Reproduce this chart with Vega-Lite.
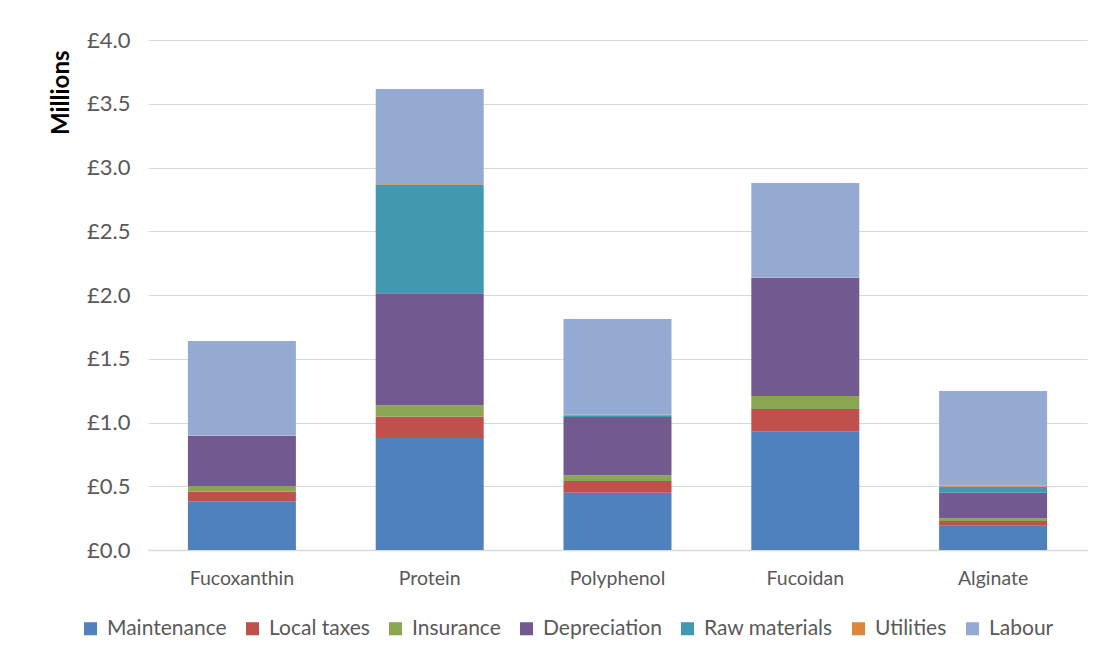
{
  "$schema": "https://vega.github.io/schema/vega-lite/v6.json",
  "width": 939,
  "height": 510,
  "autosize": {"type": "none"},
  "padding": {"left": 148, "top": 40, "right": 19, "bottom": 112},
  "background": "white",
  "data": {
    "values": [
      {"product": "Fucoxanthin", "cost": "Maintenance", "rank": 1, "value": 0.382},
      {"product": "Fucoxanthin", "cost": "Local taxes", "rank": 2, "value": 0.075},
      {"product": "Fucoxanthin", "cost": "Insurance", "rank": 3, "value": 0.045},
      {"product": "Fucoxanthin", "cost": "Depreciation", "rank": 4, "value": 0.392},
      {"product": "Fucoxanthin", "cost": "Raw materials", "rank": 5, "value": 0.002},
      {"product": "Fucoxanthin", "cost": "Utilities", "rank": 6, "value": 0.003},
      {"product": "Fucoxanthin", "cost": "Labour", "rank": 7, "value": 0.74},
      {"product": "Protein", "cost": "Maintenance", "rank": 1, "value": 0.878},
      {"product": "Protein", "cost": "Local taxes", "rank": 2, "value": 0.168},
      {"product": "Protein", "cost": "Insurance", "rank": 3, "value": 0.09},
      {"product": "Protein", "cost": "Depreciation", "rank": 4, "value": 0.877},
      {"product": "Protein", "cost": "Raw materials", "rank": 5, "value": 0.853},
      {"product": "Protein", "cost": "Utilities", "rank": 6, "value": 0.005},
      {"product": "Protein", "cost": "Labour", "rank": 7, "value": 0.745},
      {"product": "Polyphenol", "cost": "Maintenance", "rank": 1, "value": 0.45},
      {"product": "Polyphenol", "cost": "Local taxes", "rank": 2, "value": 0.091},
      {"product": "Polyphenol", "cost": "Insurance", "rank": 3, "value": 0.045},
      {"product": "Polyphenol", "cost": "Depreciation", "rank": 4, "value": 0.457},
      {"product": "Polyphenol", "cost": "Raw materials", "rank": 5, "value": 0.014},
      {"product": "Polyphenol", "cost": "Utilities", "rank": 6, "value": 0.003},
      {"product": "Polyphenol", "cost": "Labour", "rank": 7, "value": 0.752},
      {"product": "Fucoidan", "cost": "Maintenance", "rank": 1, "value": 0.928},
      {"product": "Fucoidan", "cost": "Local taxes", "rank": 2, "value": 0.178},
      {"product": "Fucoidan", "cost": "Insurance", "rank": 3, "value": 0.102},
      {"product": "Fucoidan", "cost": "Depreciation", "rank": 4, "value": 0.925},
      {"product": "Fucoidan", "cost": "Raw materials", "rank": 5, "value": 0.002},
      {"product": "Fucoidan", "cost": "Utilities", "rank": 6, "value": 0.003},
      {"product": "Fucoidan", "cost": "Labour", "rank": 7, "value": 0.74},
      {"product": "Alginate", "cost": "Maintenance", "rank": 1, "value": 0.191},
      {"product": "Alginate", "cost": "Local taxes", "rank": 2, "value": 0.036},
      {"product": "Alginate", "cost": "Insurance", "rank": 3, "value": 0.022},
      {"product": "Alginate", "cost": "Depreciation", "rank": 4, "value": 0.201},
      {"product": "Alginate", "cost": "Raw materials", "rank": 5, "value": 0.047},
      {"product": "Alginate", "cost": "Utilities", "rank": 6, "value": 0.007},
      {"product": "Alginate", "cost": "Labour", "rank": 7, "value": 0.743}
    ]
  },
  "mark": {"type": "bar"},
  "encoding": {
    "x": {
      "field": "product",
      "type": "nominal",
      "sort": ["Fucoxanthin", "Protein", "Polyphenol", "Fucoidan", "Alginate"],
      "scale": {"paddingInner": 0.425, "paddingOuter": 0.2125},
      "axis": {
        "title": null,
        "labelAngle": 0,
        "ticks": false,
        "domainColor": "#d9d9d9",
        "domainWidth": 1.5,
        "labelPadding": 19,
        "labelFontSize": 19.5,
        "labelColor": "#595959",
        "labelFont": "Lato"
      }
    },
    "y": {
      "field": "value",
      "type": "quantitative",
      "stack": "zero",
      "scale": {"domain": [0, 4], "nice": false},
      "axis": {
        "title": "Millions",
        "values": [0, 0.5, 1, 1.5, 2, 2.5, 3, 3.5, 4],
        "labelExpr": "'£' + format(datum.value, '.1f')",
        "domain": false,
        "ticks": false,
        "grid": true,
        "gridColor": "#d9d9d9",
        "gridWidth": 1.2,
        "labelPadding": 18,
        "labelFontSize": 22,
        "labelColor": "#595959",
        "labelFont": "Lato",
        "titleFont": "Lato",
        "titleFontSize": 24,
        "titleFontWeight": "bold",
        "titleColor": "#000000",
        "titleAngle": -90,
        "titleAlign": "right",
        "titleBaseline": "middle",
        "titleX": -87,
        "titleY": 10
      }
    },
    "order": {"field": "rank", "type": "quantitative", "sort": "ascending"},
    "color": {
      "field": "cost",
      "type": "nominal",
      "scale": {
        "domain": ["Maintenance", "Local taxes", "Insurance", "Depreciation", "Raw materials", "Utilities", "Labour"],
        "range": ["#4f81bd", "#c0504d", "#8ba650", "#72598f", "#4198af", "#e0863a", "#95aad3"]
      },
      "legend": {
        "title": null,
        "orient": "none",
        "direction": "horizontal",
        "legendX": -68,
        "legendY": 578,
        "symbolType": "square",
        "symbolSize": 170,
        "symbolStrokeWidth": 0,
        "labelFontSize": 21,
        "labelFont": "Lato",
        "labelColor": "#595959",
        "columnPadding": 15,
        "labelOffset": 6
      }
    }
  },
  "config": {
    "view": {"stroke": null}
  }
}
